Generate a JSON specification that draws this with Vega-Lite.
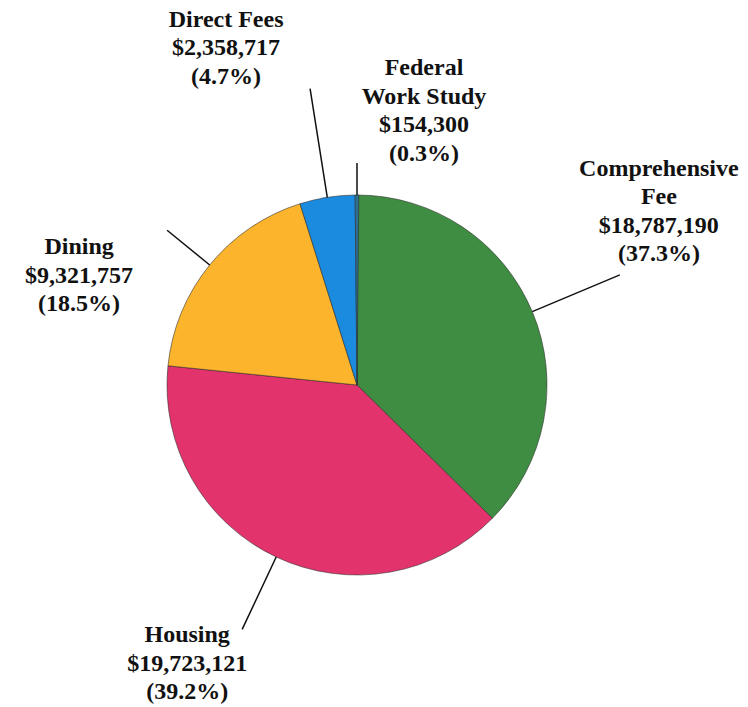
{
  "$schema": "https://vega.github.io/schema/vega-lite/v6.json",
  "autosize": {"type": "none"},
  "width": 714,
  "height": 644,
  "padding": {"left": 0, "top": 63, "right": 34, "bottom": 0},
  "background": "white",
  "config": {"view": {"stroke": null}},
  "data": {
    "values": [
      {"category": "Comprehensive Fee", "amount": 18787190, "order": 1, "label": ["Comprehensive", "Fee", "$18,787,190", "(37.3%)"]},
      {"category": "Housing", "amount": 19723121, "order": 2, "label": ["Housing", "$19,723,121", "(39.2%)"]},
      {"category": "Dining", "amount": 9321757, "order": 3, "label": ["Dining", "$9,321,757", "(18.5%)"]},
      {"category": "Direct Fees", "amount": 2358717, "order": 4, "label": ["Direct Fees", "$2,358,717", "(4.7%)"]},
      {"category": "Federal Work Study", "amount": 154300, "order": 5, "label": ["Federal", "Work Study", "$154,300", "(0.3%)"]}
    ]
  },
  "transform": [
    {"window": [{"op": "sum", "field": "amount", "as": "cumEnd"}], "sort": [{"field": "order"}]},
    {"calculate": "datum.cumEnd - datum.amount", "as": "cumStart"},
    {"calculate": "datum.cumEnd - datum.amount / 2", "as": "mid"}
  ],
  "layer": [
    {
      "mark": {"type": "arc", "outerRadius": 190, "stroke": "#2a2a2a", "strokeWidth": 0.8, "strokeOpacity": 0.7},
      "encoding": {
        "theta": {"field": "cumStart", "type": "quantitative", "stack": null},
        "theta2": {"field": "cumEnd"},
        "color": {
          "field": "category",
          "type": "nominal",
          "legend": null,
          "scale": {
            "domain": ["Comprehensive Fee", "Housing", "Dining", "Direct Fees", "Federal Work Study"],
            "range": ["#3f8d42", "#e3336c", "#fbb42b", "#1b8be0", "#2f6f8f"]
          }
        }
      }
    },
    {
      "transform": [{"filter": "datum.category == 'Comprehensive Fee'"}],
      "layer": [
        {"mark": {"type": "arc", "radius2": 190, "radius": 285, "filled": false, "stroke": "#111", "strokeWidth": 1.5},
         "encoding": {"theta": {"field": "mid", "type": "quantitative", "stack": null}, "theta2": {"field": "mid"}}},
        {"mark": {"type": "text", "radius": 285, "dx": 39, "dy": -99, "align": "center", "baseline": "alphabetic", "font": "Liberation Serif", "fontWeight": "bold", "fontSize": 24, "lineHeight": 28.5, "color": "#111"},
         "encoding": {"theta": {"field": "mid", "type": "quantitative", "stack": null}, "text": {"field": "label"}}}
      ]
    },
    {
      "transform": [{"filter": "datum.category == 'Housing'"}],
      "layer": [
        {"mark": {"type": "arc", "radius2": 190, "radius": 270, "filled": false, "stroke": "#111", "strokeWidth": 1.5},
         "encoding": {"theta": {"field": "mid", "type": "quantitative", "stack": null}, "theta2": {"field": "mid"}}},
        {"mark": {"type": "text", "radius": 270, "dx": -55, "dy": 13, "align": "center", "baseline": "alphabetic", "font": "Liberation Serif", "fontWeight": "bold", "fontSize": 24, "lineHeight": 28.5, "color": "#111"},
         "encoding": {"theta": {"field": "mid", "type": "quantitative", "stack": null}, "text": {"field": "label"}}}
      ]
    },
    {
      "transform": [{"filter": "datum.category == 'Dining'"}],
      "layer": [
        {"mark": {"type": "arc", "radius2": 190, "radius": 245, "filled": false, "stroke": "#111", "strokeWidth": 1.5},
         "encoding": {"theta": {"field": "mid", "type": "quantitative", "stack": null}, "theta2": {"field": "mid"}}},
        {"mark": {"type": "text", "radius": 245, "dx": -88, "dy": 24, "align": "center", "baseline": "alphabetic", "font": "Liberation Serif", "fontWeight": "bold", "fontSize": 24, "lineHeight": 28.5, "color": "#111"},
         "encoding": {"theta": {"field": "mid", "type": "quantitative", "stack": null}, "text": {"field": "label"}}}
      ]
    },
    {
      "transform": [{"filter": "datum.category == 'Direct Fees'"}],
      "layer": [
        {"mark": {"type": "arc", "radius2": 190, "radius": 300, "filled": false, "stroke": "#111", "strokeWidth": 1.5},
         "encoding": {"theta": {"field": "mid", "type": "quantitative", "stack": null}, "theta2": {"field": "mid"}}},
        {"mark": {"type": "text", "radius": 300, "dx": -84, "dy": -62, "align": "center", "baseline": "alphabetic", "font": "Liberation Serif", "fontWeight": "bold", "fontSize": 24, "lineHeight": 28.5, "color": "#111"},
         "encoding": {"theta": {"field": "mid", "type": "quantitative", "stack": null}, "text": {"field": "label"}}}
      ]
    },
    {
      "transform": [{"filter": "datum.category == 'Federal Work Study'"}],
      "layer": [
        {"mark": {"type": "arc", "radius2": 190, "radius": 222, "filled": false, "stroke": "#111", "strokeWidth": 1.5},
         "encoding": {"theta": {"field": "mid", "type": "quantitative", "stack": null}, "theta2": {"field": "mid"}}},
        {"mark": {"type": "text", "radius": 222, "dx": 67, "dy": -88, "align": "center", "baseline": "alphabetic", "font": "Liberation Serif", "fontWeight": "bold", "fontSize": 24, "lineHeight": 28.5, "color": "#111"},
         "encoding": {"theta": {"field": "mid", "type": "quantitative", "stack": null}, "text": {"field": "label"}}}
      ]
    }
  ]
}
